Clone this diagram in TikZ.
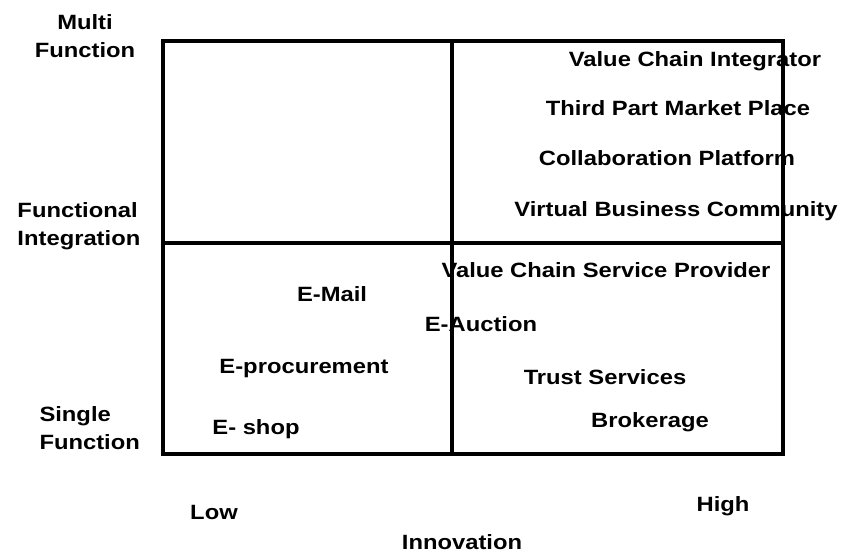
\documentclass[tikz,border=0pt]{standalone}
\usepackage{fontspec}
\setmainfont{Liberation Sans}[FakeStretch=1.15]
\tikzset{every picture/.style={line width=0.75pt}}
\tikzset{
	lbl/.style={font=\bfseries\fontsize{15.5}{21}\selectfont, inner sep=0.75pt},
	frame/.style={line width=2.5pt}
}
\begin{document}
\begin{tikzpicture}[x=0.75pt,y=0.75pt,yscale=-1,xscale=1]
		\useasboundingbox (0,0) rectangle (844,553);
		
		% Text Node
		\node [lbl] (vci) at (695,61) {Value Chain Integrator};
		% Text Node
		\node [lbl] (tpmp) at (678,108) {Third Part Market Place};
		% Text Node
		\node [lbl] (cp) at (667,158) {Collaboration Platform};
		% Text Node
		\node [lbl] (vbc) at (676,211) {Virtual Business Community};
		% Text Node
		\node [lbl] (vcsp) at (606,270) {Value Chain Service Provider};
		% Text Node
		\node [lbl] (email) at (332,294) {E-Mail};
		% Text Node
		\node [lbl] (eauction) at (481,324) {E-Auction};
		% Text Node
		\node [lbl] (eproc) at (304,369) {E-procurement};
		% Text Node
		\node [lbl] (trust) at (605,377) {Trust Services};
		% Text Node
		\node [lbl] (broker) at (650,422) {Brokerage};
		% Text Node
		\node [lbl] (eshop) at (256,429) {E- shop};
		
		% Text Node
		\node [lbl, align=center] (multi) at (85,36) {Multi\\Function};
		% Text Node
		\node [lbl, align=left, anchor=west] (funcint) at (16,226) {Functional\\Integration};
		% Text Node
		\node [lbl, align=left, anchor=west] (single) at (38,428) {Single\\Function};
		% Text Node
		\node [lbl] (low) at (214,512) {Low};
		% Text Node
		\node [lbl] (high) at (723,506) {High};
		% Text Node
		\node [lbl] (innov) at (462,542) {Innovation};
		
		%Frame
		\coordinate (tl) at (163,41);
		\coordinate (br) at (783,454);
		\coordinate (midtop) at (452,41);
		\coordinate (midbot) at (452,454);
		\coordinate (midleft) at (163,243);
		\coordinate (midright) at (783,243);
		\draw [frame] (tl) rectangle (br);
		\draw [frame] (midtop) -- (midbot);
		\draw [frame] (midleft) -- (midright);
		
\end{tikzpicture}
\end{document}
